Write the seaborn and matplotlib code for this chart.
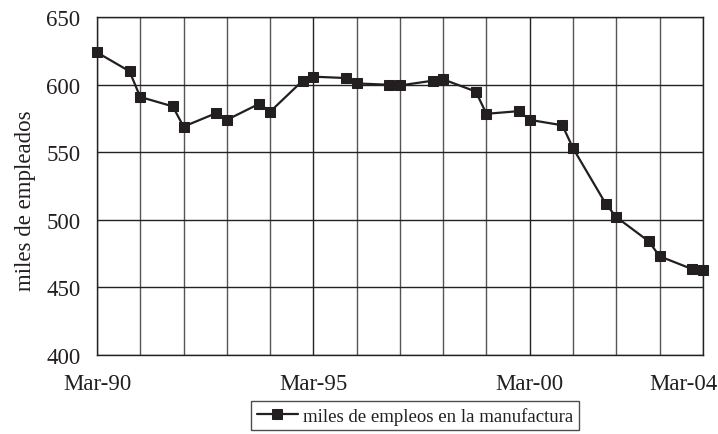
import matplotlib
matplotlib.use("Agg")
import matplotlib.pyplot as plt
import matplotlib.dates as mdates
import matplotlib.transforms as mtransforms
import seaborn as sns
import pandas as pd

dates = ["1990-03", "1990-12", "1991-03", "1991-12", "1992-03", "1992-12",
         "1993-03", "1993-12", "1994-03", "1994-12", "1995-03", "1995-12",
         "1996-03", "1996-12", "1997-03", "1997-12", "1998-03", "1998-12",
         "1999-03", "1999-12", "2000-03", "2000-12", "2001-03", "2001-12",
         "2002-03", "2002-12", "2003-03", "2003-12", "2004-03"]
values = [624, 610, 591, 584, 569, 579, 574, 586, 580, 603, 606, 605,
          601, 600, 599.5, 603, 604, 595, 578.5, 580.5, 574, 570, 553,
          512, 502, 484, 473, 463.5, 462.5]
series_name = "miles de empleos en la manufactura"
y_label = "miles de empleados"
tick_dates = ["1990-03", "1995-03", "2000-03", "2004-03"]
tick_labels = ["Mar-90", "Mar-95", "Mar-00", "Mar-04"]

df = pd.DataFrame({"fecha": pd.to_datetime(dates), "valor": values,
                   "serie": series_name})

sns.set_theme(style="white")
plt.rcParams["font.family"] = ["Liberation Serif", "DejaVu Serif"]

fig = plt.figure(figsize=(7.18, 4.35), dpi=100)
ax = fig.add_axes([0.135, 0.182, 0.844, 0.776])

sns.lineplot(data=df, x="fecha", y="valor", hue="serie",
             palette=["#231f20"], marker="s", markersize=6.5,
             markeredgecolor="#231f20", linewidth=1.6, ax=ax,
             clip_on=False, zorder=5)

ax.set_xlim(pd.Timestamp("1990-03"), pd.Timestamp("2004-03"))
ax.set_ylim(400, 650)
ax.set_yticks(range(400, 651, 50))

# yearly vertical gridlines
ax.xaxis.set_minor_locator(mdates.MonthLocator(bymonth=3))
ax.set_xticks(pd.to_datetime(tick_dates))
ax.set_xticklabels(tick_labels)
ax.grid(True, which="minor", axis="x", color="#555555", linewidth=1.0)
ax.grid(True, which="major", axis="both", color="#222222", linewidth=1.0)
ax.tick_params(axis="x", which="major", direction="out", length=8,
               width=1, color="#222222", labelsize=16.5, pad=5)
ax.tick_params(axis="x", which="minor", length=0)
ax.tick_params(axis="y", which="major", direction="out", length=8,
               width=1, color="#222222", labelsize=16.5, pad=4)
for lab in ax.get_xticklabels() + ax.get_yticklabels():
    lab.set_color("#231f20")
# last label sits flush with the right edge as in the reference
last = ax.get_xticklabels()[-1]
last.set_transform(last.get_transform() +
                   mtransforms.ScaledTranslation(-0.20, 0, fig.dpi_scale_trans))

for s in ax.spines.values():
    s.set_visible(True)
    s.set_color("#222222")
    s.set_linewidth(1.0)

ax.set_xlabel("")
ax.set_ylabel(y_label, fontsize=16.5, color="#231f20")
ax.yaxis.set_label_coords(-0.10, 0.46)

leg = ax.legend(loc="upper center", bbox_to_anchor=(0.525, -0.137),
                frameon=True, fancybox=False, fontsize=13.5,
                handlelength=2.2, handletextpad=0.3, borderpad=0.3,
                borderaxespad=0)
leg.get_frame().set_edgecolor("#222222")
leg.get_frame().set_linewidth(1.0)
for t in leg.get_texts():
    t.set_color("#231f20")

fig.savefig("out.png", dpi=100)
